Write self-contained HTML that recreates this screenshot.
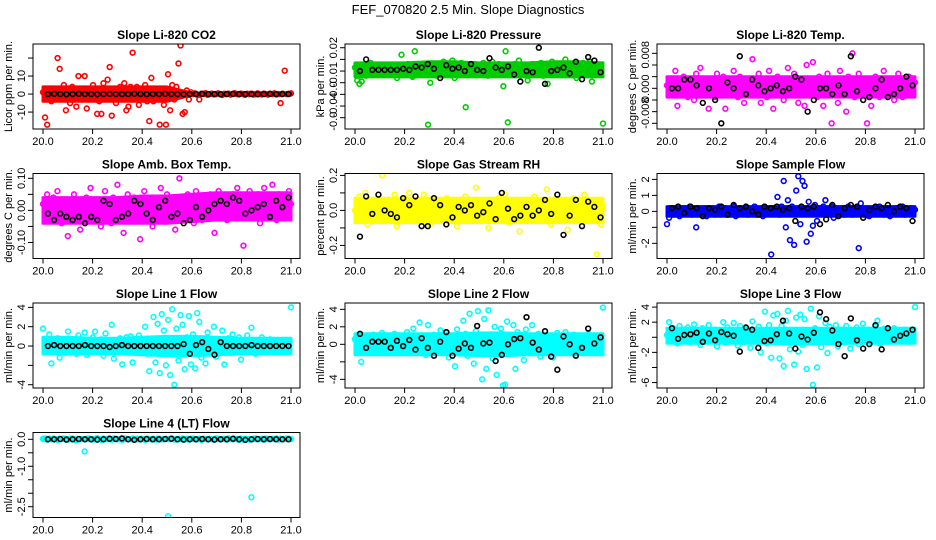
<!DOCTYPE html>
<html><head><meta charset="utf-8"><style>
html,body{margin:0;padding:0;background:#fff;}
svg{display:block;font-family:"Liberation Sans",sans-serif;}
</style></head><body>
<svg id="chart" width="936" height="540" viewBox="0 0 936 540" xmlns="http://www.w3.org/2000/svg">
<rect x="0" y="0" width="936" height="540" fill="#fff"/>
<text x="468" y="14" text-anchor="middle" font-size="13">FEF_070820  2.5 Min. Slope Diagnostics</text>
</svg>
<script>
const xTicks=[20.0,20.2,20.4,20.6,20.8,21.0];
const xTickLabels=["20.0","20.2","20.4","20.6","20.8","21.0"];
const titles=["Slope Li-820 CO2","Slope Li-820 Pressure","Slope Li-820 Temp.","Slope Amb. Box Temp.","Slope Gas Stream RH","Slope Sample Flow","Slope Line 1 Flow","Slope Line 2 Flow","Slope Line 3 Flow","Slope Line 4 (LT) Flow"];
const yTitles=["Licor ppm per min.","kPa per min.","degrees C per min.","degrees C per min.","percent per min.","ml/min per min.","ml/min per min.","ml/min per min.","ml/min per min.","ml/min per min."];
const co2=[1,-13,-17,2,-4,3,-1,20,14,-2,5,-9,1,-5,4,-3,-7,10,2,-3,10,-8,3,-2,5,-1,-11,-4,-11,6,3,8,15,-12,3,-5,2,4,-3,6,-9,-7,4,23,-2,4,-6,2,-3,5,-4,-15,9,-4,1,-2,-17,3,-6,-17,11,-9,5,-3,4,17,27,-11,-10,2,-3,1,0,0.4,-0.3,-3,0.2,0,0.5,-0.4,0,0.3,-0.2,0,0.4,0,-0.5,0.2,0,0.3,-0.3,0,0.5,0,-0.2,0.3,0,-0.4,0.2,0,0.3,-0.3,0,0.4,0,-0.2,0.3,0,-0.3,0.2,0,0.4,-0.2,0,-5,0.3,13,0,0.2,0.4];
const co2Ref=[0,0.1,0,-0.1,0,0.1,0,0,-0.1,0,0.1,0,0,0,0.1,0,-0.1,0,0,0.1,0,0,-0.1,0,0,0.1,0,0,-0.1,0,0.1,0,0,0,-0.1,0,0.1,0,0,0];
const pres=[0.003,-0.008,-0.011,-0.009,0.005,-0.004,0.002,0.007,-0.003,0.001,0.004,0.000,-0.002,0.003,0.001,-0.003,0.005,-0.001,0.002,-0.006,0.004,0.014,0.001,-0.002,0.006,0.003,-0.005,0.017,0.002,-0.001,0.004,-0.003,0.006,-0.046,-0.010,0.003,0.001,-0.004,0.005,0.002,0.008,-0.002,0.003,0.000,0.009,-0.006,0.004,-0.001,0.007,0.002,-0.031,0.003,0.005,-0.002,0.006,0.001,0.004,-0.003,0.007,0.002,-0.004,0.005,0.008,0.001,-0.002,0.006,0.003,-0.013,0.017,-0.044,0.004,-0.002,0.006,0.001,0.009,0.003,-0.001,0.005,-0.008,0.002,0.006,-0.003,0.004,0.001,0.007,-0.004,0.005,-0.011,0.002,0.008,-0.002,0.004,0.001,0.006,-0.003,0.010,0.002,-0.001,0.005,0.003,-0.006,0.004,0.001,0.007,-0.002,0.003,0.008,-0.009,0.002,0.005,0.000,0.004,-0.045];
const presRef=[0.000,0.010,0.001,0.001,0.001,0.001,0.001,0.002,0.001,0.004,0.003,0.006,0.002,-0.006,0.005,0.002,0.003,0.000,0.006,0.001,0.000,0.011,0.003,0.001,0.004,-0.003,-0.009,0.000,-0.001,0.020,-0.011,0.000,0.001,0.003,-0.002,0.008,-0.007,0.012,0.009,-0.001];
const ltemp=[0.001,-0.002,0.003,0,0.006,-0.006,0.002,-0.001,0.004,0,-0.003,0.002,0.001,-0.004,0.005,0,0.007,-0.002,0.001,0.003,-0.007,0,0.002,-0.003,0.005,0.001,-0.001,0.004,-0.007,0.002,0,-0.002,0.006,0.001,-0.003,0.004,0,-0.005,0.003,0.002,-0.001,0.010,-0.002,0.001,0.005,-0.005,0.003,0,-0.003,0.006,0.002,-0.007,0.001,0.004,-0.001,0.003,-0.004,0,0.007,0.002,-0.002,0.005,0.001,-0.005,0.003,0,-0.006,0.008,0.002,-0.001,0.009,0.001,-0.003,0.004,0,-0.006,0.002,0.005,-0.002,-0.012,0.001,0.003,-0.005,0.006,0,0.002,-0.008,0.004,-0.001,0.012,-0.003,0.001,0.005,-0.002,0,0.003,-0.012,0.002,-0.006,0.001,0.004,0,-0.003,0.002,0.006,0.001,-0.002,0.003,0,-0.004,0.002,0.005,0.001,-0.003,0,0.002,0.004,0.001,-0.001,0.002];
const ltempRef=[0,0,0.003,0.003,0.001,-0.005,0,-0.004,-0.012,0.002,0,0.011,-0.002,0.003,0.001,-0.001,0,0.001,-0.001,0,0.004,0.003,-0.008,-0.004,0,0,-0.002,0.001,-0.002,0.011,-0.001,-0.004,-0.003,0,0.003,-0.003,-0.002,0,0.004,0.001];
const abox=[0.02,-0.03,0.05,0,-0.02,0.04,-0.01,0.06,0.01,-0.04,0.03,0,-0.08,0.02,-0.01,0.05,-0.03,0.01,-0.06,0.03,0,0.04,-0.02,0.07,0.01,-0.03,0.02,0,-0.05,0.03,0.06,-0.01,0.02,-0.04,0.04,0,0.08,-0.02,0.01,-0.07,0.03,0.05,-0.01,0,0.04,-0.03,0.02,-0.09,0.01,0.06,-0.02,0.03,0,-0.05,0.04,0.02,-0.01,0.07,0,-0.03,0.05,0.01,-0.02,0.04,-0.06,0.03,0.10,0,-0.16,0.02,0.05,-0.01,0.03,-0.04,0.06,0,0.02,-0.03,0.04,0.01,-0.02,0.05,0,-0.07,0.03,0.06,0.01,-0.01,0.04,-0.03,0.02,0,0.05,-0.02,0.07,0.03,-0.01,-0.11,0.04,0.01,0.06,-0.02,0.03,0,0.05,-0.04,0.02,0.07,0.01,-0.01,0.04,0.08,0.02,-0.03,0.05,0,0.03,-0.02,0.01,0.06,0.02];
const aboxRef=[-0.01,-0.03,-0.01,-0.02,-0.03,-0.02,-0.04,-0.02,-0.03,0.03,0.02,-0.03,-0.02,-0.01,0.03,0.02,-0.01,-0.03,0.01,0.03,-0.02,-0.01,-0.04,-0.03,0.01,-0.02,0,0.02,0.03,0.02,0.04,0.03,-0.01,0,0.01,0.02,-0.02,0.03,0.01,0.04];
const rh=[0,-0.05,0.08,0.03,-0.03,0.10,-0.08,0.02,0.05,-0.01,0.04,-0.06,0.01,0.20,0.03,-0.04,0.06,0,-0.02,0.09,-0.09,0.03,0.01,-0.04,0.07,-0.01,0.10,0.02,-0.06,0.04,0,-0.03,0.05,0.09,-0.01,0.02,-0.08,0.03,0,0.06,-0.02,0.04,0.01,-0.05,0.07,0,0.03,-0.04,0.02,-0.09,0.05,0.01,-0.02,0.08,0,0.03,-0.06,0.04,0.13,0.01,-0.03,0.02,0.06,-0.01,-0.10,0.05,0.03,0,-0.02,0.07,0.01,-0.04,0.09,0.02,-0.07,0.03,0,0.05,-0.01,-0.12,0.04,0.02,-0.03,0.06,0.01,-0.01,0.08,-0.05,0.03,0,0.04,-0.02,0.12,0.01,-0.08,0.05,0,0.03,-0.03,0.06,0.02,-0.01,-0.11,0.04,0.01,0.07,-0.04,0.02,0,0.05,0.09,-0.02,0.03,-0.06,0.01,0.04,-0.25,0.06,-0.08,0.02];
const rhRef=[-0.15,0.08,-0.02,0.09,0,-0.02,-0.04,0.07,0.03,0.08,-0.09,-0.09,0.07,0.03,-0.08,-0.04,0.02,0,0.03,-0.03,-0.01,0.04,-0.05,0.10,0.01,-0.05,-0.03,0.02,-0.03,0,0.06,-0.02,0.09,-0.14,-0.03,0.06,-0.09,0.05,0.02,-0.04];
const sflow=[-0.8,-0.4,0.1,-0.2,0.2,0,-0.3,0.1,0.2,-0.1,0,0.3,-0.2,0.1,-1.0,0.2,0,-0.1,0.2,-0.3,0.1,0,0.2,-0.2,0.1,0.3,0,-0.1,0.2,-0.2,0.1,0,0.3,-0.3,0.1,0.2,0,-0.1,0.2,-0.2,0,0.1,0.3,-0.2,0.1,0,-0.3,0.2,0.1,0,-2.7,0.2,-0.1,0.9,-0.2,0.3,1.9,-1.0,0.7,-1.8,0.3,-2.1,1.3,2.2,-0.8,1.9,1.6,-1.9,0.6,-1.4,-0.9,0.4,-0.6,0.2,0,0.3,0.7,-0.2,0.1,0.3,-0.4,0.2,0,-0.1,0.2,-0.2,0.1,0.3,0,-0.2,0.1,0.2,-2.3,0.5,0,-0.1,0.2,-0.3,0.1,0,0.2,-0.1,0.3,0,-0.2,0.1,0.2,-0.3,0,0.1,0.2,-0.1,0,0.3,-0.2,0.1,0,0.2,-0.1,0.1];
const sflowRef=[0.2,0.3,-0.1,0.3,0.2,-0.3,0.2,0.1,0.3,-0.2,0.4,0.2,0.3,0,-0.2,0.3,0.2,0.3,0.1,0.2,-0.6,0.3,0.2,0.3,-0.8,-0.5,0.4,-0.3,0.2,0.4,0.3,-0.4,0.1,0.3,0.2,0.4,0,0.3,0.2,-0.6];
const l1=[1.8,0.5,-0.6,1.2,-1.8,0.3,-0.4,0.8,-1.2,0.5,0.2,-0.7,1.5,0,-0.3,0.6,-0.8,1.1,-0.2,0.4,1.4,-0.9,0.2,-0.3,0.9,1.5,-0.5,0.1,0.7,-1.0,1.3,-0.4,0.2,2.2,-1.3,0.5,-0.1,0.8,-1.9,0.3,0.9,-0.6,1.0,-1.7,0.4,-0.2,1.1,-0.5,0.7,2.0,-0.8,-2.6,0.5,3.0,-1.7,2.3,-2.8,3.3,1.6,-2.0,2.7,-3.0,3.8,-4.0,1.8,-1.5,3.2,2.2,-2.4,0.9,3.1,-1.9,1.2,-2.3,3.4,2.5,-1.2,0.8,-1.8,1.4,-0.6,0.3,2.0,-1.1,0.6,-0.4,1.6,-1.9,0.2,0.8,-0.7,1.2,-0.3,0.5,0.9,-1.4,0.2,-0.5,1.1,-0.2,1.9,0.4,-0.8,0.6,-0.3,0.9,-0.1,0.3,-0.6,0.7,0.1,-0.4,0.5,0.2,-0.3,0.6,0,-0.2,0.3,4.0];
const l1Ref=[0,0.1,0,0,0,0,0.1,0,0,0,-0.1,0,0.1,0,0,0,0,0,0,0,0,0,0.2,-0.8,0.1,0.4,-0.3,-0.9,0.4,0,0,0,0,0.1,0,0,0,0,0,0];
const l2=[0.6,-0.3,1.0,-2.0,0.4,-0.6,0.9,0.2,-0.4,1.1,0.5,-0.8,0.3,1.3,-0.2,0.7,-1.0,0.4,0.1,1.2,-0.5,0.8,0.3,-0.9,0.6,1.4,-0.2,0.5,1.8,-0.7,0.2,2.5,-0.4,1.0,-1.2,2.2,0.3,-0.6,1.1,0.4,-0.9,1.6,0.7,-0.3,1.3,-1.5,0.2,0.9,-2.5,1.7,0.3,-0.8,2.7,1.2,-1.3,3.5,0.6,-2.2,1.5,3.8,-0.4,-4.0,2.9,-2.8,3.9,1.1,-1.6,2.0,-3.5,0.8,1.8,-4.7,-4.6,2.6,-1.1,0.5,2.2,-2.8,1.4,-0.3,0.9,-1.8,1.7,0.4,-1.0,2.2,0.6,-0.5,1.2,-1.4,0.8,0.1,-0.7,1.0,0.3,-1.5,0.6,1.3,-0.4,0.7,-0.9,1.4,0.2,-0.3,0.8,1.1,-0.6,0.4,0.9,-0.2,0.5,-0.8,1.2,0.3,-0.4,0.6,0.2,0.9,-0.3,4.2];
const l2Ref=[1.2,-0.4,0.3,0.3,0.3,-0.4,0.4,-0.2,0.5,-0.6,0.7,-0.4,-1.3,0.3,1.4,-1.3,-0.5,0.1,-0.4,2.1,0.1,0.2,-1.9,-1.2,0.0,0.6,0.7,3.1,0.2,-0.6,1.5,-1.4,-2.9,0.9,0.0,-1.3,-0.4,1.8,0.1,0.8];
const l3=[0.3,2.0,-0.4,1.2,0.6,-0.8,1.5,0.2,-0.3,0.9,1.3,-0.6,0.4,1.7,-0.2,0.7,-1.0,1.2,0.3,-0.5,1.6,0.5,-0.2,1.0,-1.2,0.8,0.2,2.0,-0.7,1.3,0.4,-0.3,1.9,0.6,-1.1,1.5,0.2,-0.6,1.1,0.8,-1.4,2.1,0.3,-0.4,1.4,-2.0,0.9,3.4,-0.8,1.6,-2.7,2.9,0.4,3.1,-2.8,1.5,-3.8,2.2,3.5,-1.6,0.7,-3.6,2.6,-1.9,3.0,-1.0,2.4,-4.2,0.9,3.8,-6.3,1.2,-4.0,2.8,-1.3,0.6,1.9,-2.1,1.4,-0.5,0.9,1.6,-1.2,0.4,1.0,-0.7,1.5,0.3,-1.5,0.8,0.1,1.3,-0.9,0.6,1.8,-0.3,0.7,1.0,-0.6,0.2,1.4,2.2,-0.8,0.5,1.1,-0.2,0.9,0.3,-0.5,1.2,0.6,0.2,-0.3,0.8,1.0,0.4,-0.1,0.7,0.3,4.0];
const l3Ref=[1.2,-0.2,0.3,0.4,0.6,-0.6,0.5,-0.4,0.7,0.4,0.2,-1.9,1.3,1.0,-1.4,-0.5,-0.4,0.4,2.2,0.5,-1.5,0.1,-0.3,0.6,3.3,2.4,0.9,-0.9,-2.5,2.5,-0.4,-1.5,-0.9,1.6,-1.6,1.2,-0.3,0.2,0.5,1.0];
const l4=[0.02,0.03,-0.01,0.02,0,0.03,0.01,-0.02,0.02,0.01,0.03,0,-0.01,0.02,0.03,0.01,-0.04,0.02,0,0.01,-0.45,0.02,0.03,0,-0.01,0.02,0.04,0.01,-0.02,0.03,0,0.02,0.01,-0.01,0.03,0.02,0,0.01,-0.02,0.03,0.02,0,0.01,0.03,-0.01,0.02,0,0.02,0.01,-0.02,0.03,0.01,0,0.02,-0.01,0.03,0.02,0,0.01,0.02,-2.85,0.01,0.03,0,-0.01,0.02,0.01,0.03,0,0.02,-0.01,0.02,0.03,0.01,0,0.02,-0.02,0.03,0.01,0,0.02,0.01,-0.01,0.03,0.02,0,0.01,0.02,-0.01,0.03,0.01,0,0.02,0.01,-0.02,0.03,0,0.02,0.01,-0.01,-2.15,0.02,0.03,0,0.01,0.02,-0.01,0.03,0.01,0,0.02,0.01,0.03,-0.01,0.02,0,0.01,0.03,0.02,0.01];
const l4Ref=[0,0,0.01,-0.01,0,0.01,0,0,-0.01,0,0.02,0.01,0.03,0,-0.02,0,0.01,0,0,0.01,0.02,0,-0.01,0,0,0.01,0,-0.01,0,0,0.02,0,-0.02,0,0.01,0,0.01,0,0,0];
// dense-band envelopes (at x = 20.0, 20.1, ... 21.0)
const bandX=[20.0,20.1,20.2,20.3,20.4,20.5,20.6,20.7,20.8,20.9,21.0];
const co2Lo=[-4,-4,-4,-4,-4,-4,-0.6,-0.6,-0.6,-0.6,-0.6];
const co2Hi=[4,4,4,4,4,4,0.6,0.6,0.6,0.6,0.6];
const presLo=[-0.005,-0.005,-0.005,-0.005,-0.005,-0.005,-0.005,-0.005,-0.005,-0.005,-0.005];
const presHi=[0.007,0.007,0.007,0.008,0.008,0.007,0.007,0.007,0.008,0.008,0.007];
const ltempLo=[-0.003,-0.003,-0.003,-0.003,-0.003,-0.003,-0.003,-0.003,-0.003,-0.003,-0.003];
const ltempHi=[0.004,0.004,0.004,0.004,0.004,0.004,0.004,0.004,0.004,0.004,0.004];
const aboxLo=[-0.04,-0.04,-0.04,-0.04,-0.04,-0.04,-0.035,-0.03,-0.03,-0.03,-0.03];
const aboxHi=[0.04,0.04,0.04,0.04,0.045,0.045,0.05,0.055,0.055,0.055,0.055];
const rhLo=[-0.07,-0.07,-0.07,-0.07,-0.07,-0.07,-0.07,-0.07,-0.07,-0.07,-0.07];
const rhHi=[0.07,0.07,0.07,0.07,0.07,0.07,0.07,0.07,0.07,0.07,0.07];
const sflowLo=[-0.3,-0.3,-0.3,-0.3,-0.3,-0.3,-0.3,-0.3,-0.3,-0.3,-0.3];
const sflowHi=[0.3,0.3,0.3,0.3,0.3,0.3,0.3,0.3,0.3,0.3,0.3];
const l1Lo=[-0.8,-0.8,-0.8,-0.8,-0.9,-1.0,-1.0,-0.9,-0.8,-0.8,-0.8];
const l1Hi=[0.9,0.9,0.8,0.8,0.9,1.0,1.0,0.9,0.8,0.8,0.8];
const l2Lo=[-1.2,-1.2,-1.2,-1.2,-1.2,-1.3,-1.3,-1.2,-1.2,-1.2,-1.2];
const l2Hi=[1.2,1.2,1.2,1.2,1.2,1.3,1.3,1.2,1.2,1.2,1.2];
const l3Lo=[-0.8,-0.8,-0.8,-0.8,-0.8,-0.9,-0.9,-0.8,-0.8,-0.8,-0.8];
const l3Hi=[1.2,1.2,1.2,1.2,1.2,1.2,1.2,1.2,1.2,1.2,1.2];
const l4Lo=[-0.05,-0.05,-0.05,-0.05,-0.05,-0.05,-0.05,-0.05,-0.05,-0.05,-0.05];
const l4Hi=[0.06,0.06,0.06,0.06,0.06,0.06,0.06,0.06,0.06,0.06,0.06];
const bandLo=[co2Lo,presLo,ltempLo,aboxLo,rhLo,sflowLo,l1Lo,l2Lo,l3Lo,l4Lo];
const bandHi=[co2Hi,presHi,ltempHi,aboxHi,rhHi,sflowHi,l1Hi,l2Hi,l3Hi,l4Hi];
const colorSeries=[co2,pres,ltemp,abox,rh,sflow,l1,l2,l3,l4];
const refSeries=[co2Ref,presRef,ltempRef,aboxRef,rhRef,sflowRef,l1Ref,l2Ref,l3Ref,l4Ref];
const yTicks=[[20,10,0,-10],[0.02,0.01,0,-0.01,-0.02,-0.03,-0.04],[0.012,0.008,0.004,0,-0.004,-0.008,-0.012],[0.1,0.05,0,-0.05,-0.1],[0.2,0.1,0,-0.1,-0.2],[2,1,0,-1,-2],[4,2,0,-2,-4],[4,2,0,-2,-4],[4,2,0,-2,-4,-6],[0,-0.5,-1,-1.5,-2,-2.5]];
const yLabelVals=[[10,0,-10],[0.02,-0.003,-0.017,-0.029,-0.043],[0.0115,0,-0.0085],[0.1,0,-0.1],[0.2,0,-0.2],[2,1,0,-2],[4,2,0,-4],[4,2,0,-4],[4,2,-2,-6],[0,-1,-2.5]];
const yLabelText=[["10","0","-10"],["0.02","-0.01","-0.0","-0.04","-0.0"],["0.008","0.000","-0.008"],["0.10","0.00","-0.10"],["0.2","0.0","-0.2"],["2","1","0","-2"],["4","2","0","-4"],["4","2","0","-4"],["4","2","-2","-6"],["0.0","-1.0","-2.5"]];
const yDomains=[[-19.4,27.8],[-0.0497,0.0232],[-0.01395,0.0152],[-0.150,0.115],[-0.2749,0.2109],[-2.95,2.37],[-4.34,4.45],[-4.99,4.72],[-6.72,4.54],[-2.90,0.252]];
const colors=["#ff0000","#00cc00","#ff00ff","#ff00ff","#ffff00","#0000ff","#00ffff","#00ffff","#00ffff","#00ffff"];

const NS="http://www.w3.org/2000/svg";
const svg=document.getElementById('chart');
function mk(tag,attrs,parent){const e=document.createElementNS(NS,tag);for(const k in attrs)e.setAttribute(k,attrs[k]);(parent||svg).appendChild(e);return e;}
const BW=267,BH=85;
for(let p=0;p<10;p++){
  const col=p%3,row=Math.floor(p/3);
  const bx=33+col*312, by=44+row*129.5;
  const g=mk('g',{});
  
  
  const xs=v=>bx+10+(v-20)*248;
  const [y0,y1]=yDomains[p];
  const ys=v=>by+BH-(v-y0)/(y1-y0)*BH;
  const t=mk('text',{x:bx+BW/2,y:by-5,'text-anchor':'middle','font-size':'12','font-weight':'bold'},g);
  t.textContent=titles[p];
  
  
  const yt=mk('text',{x:0,y:0,'text-anchor':'middle','font-size':'11',transform:`translate(${bx-21},${by+BH/2}) rotate(-90)`},g);
  yt.textContent=yTitles[p];
  
  
  const cid='clip'+p;
  const cp=mk('clipPath',{id:cid},g);
  mk('rect',{x:bx,y:by,width:BW,height:BH},cp);
  const pts=mk('g',{'clip-path':`url(#${cid})`},g);
  
  
  // dense band
  const lo=bandLo[p],hi=bandHi[p];
  let d='';
  bandX.forEach((x,i)=>{d+=(i?'L':'M')+xs(x).toFixed(1)+','+ys(hi[i]).toFixed(1);});
  for(let i=bandX.length-1;i>=0;i--){d+='L'+xs(bandX[i]).toFixed(1)+','+ys(lo[i]).toFixed(1);}
  d+='Z';
  const band=mk('path',{d:d,fill:colors[p],stroke:colors[p],'stroke-width':3,'stroke-linejoin':'round'},pts);
  
  
  const cs=colorSeries[p];
  cs.forEach((v,i)=>{
    const x=20+i/(cs.length-1);
    const c=mk('circle',{cx:xs(x),cy:ys(v),r:2.4,fill:'none',stroke:colors[p],'stroke-width':1.6},pts);
    
    
  });
  const rs=refSeries[p];
  rs.forEach((v,i)=>{
    const x=20.02+i*(0.97/(rs.length-1));
    const c=mk('circle',{cx:xs(x),cy:ys(v),r:2.4,fill:'none',stroke:'#000','stroke-width':1.6},pts);
    
    
  });
  const box=mk('rect',{x:bx,y:by,width:BW,height:BH,fill:'none',stroke:'#000','stroke-width':1},g);
  
  
  xTicks.forEach((v,i)=>{
    mk('line',{x1:xs(v),x2:xs(v),y1:by+BH,y2:by+BH+5,stroke:'#000'},g);
    const l=mk('text',{x:xs(v),y:by+BH+16,'text-anchor':'middle','font-size':'11'},g);
    l.textContent=xTickLabels[i];
    
    
  });
  yTicks[p].forEach(v=>{mk('line',{x1:bx-5,x2:bx,y1:ys(v),y2:ys(v),stroke:'#000'},g);});
  yLabelVals[p].forEach((v,i)=>{
    const l=mk('text',{x:0,y:0,'text-anchor':'middle','font-size':'11',transform:`translate(${bx-8},${ys(v)}) rotate(-90)`},g);
    l.textContent=yLabelText[p][i];
    
    
  });
}
</script>
</body></html>
